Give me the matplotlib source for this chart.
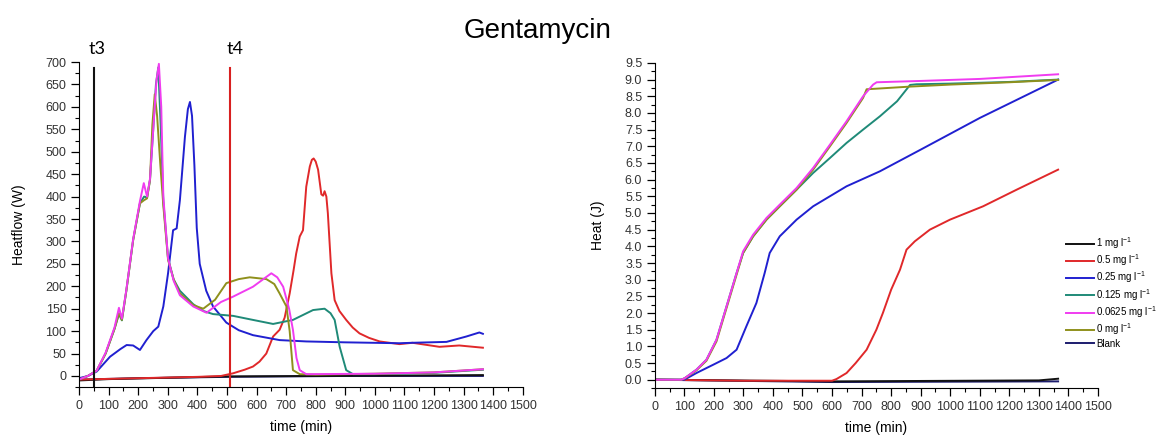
# Gentamycin: heatflow and cumulated heat vs time
import matplotlib as mpl
mpl.use("Agg")
import matplotlib.pyplot as plt
from matplotlib.ticker import MultipleLocator

# font settings
mpl.rcParams['font.family'] = ['Liberation Sans', 'DejaVu Sans']
mpl.rcParams['mathtext.fontset'] = 'custom'
mpl.rcParams['mathtext.rm'] = 'Liberation Sans'
mpl.rcParams['mathtext.it'] = 'Liberation Sans'

labels = [r'1 mg l$^{-1}$', r'0.5 mg l$^{-1}$', r'0.25 mg l$^{-1}$', r'0.125 mg l$^{-1}$',
          r'0.0625 mg l$^{-1}$', r'0 mg l$^{-1}$', 'Blank']
colors = ['#111111', '#e0282a', '#2020d0', '#1f8a78', '#f03cf0', '#8f901c', '#1c1c6e']

# ---- heatflow (W), left panel ----
t_hf_1 = [0, 100, 300, 500, 800, 1100, 1365]
hf_1 = [-10, -7, -4, -1, 0, 1, 2]
t_hf_05 = [0, 200, 400, 480, 521, 560, 588, 610, 633, 656, 678, 695, 712, 725, 734, 746, 757,
           768, 780, 787, 793, 800, 808, 819, 825, 830, 836, 841, 853, 864, 880, 903, 925,
           948, 980, 1016, 1083, 1127, 1218, 1285, 1365]
hf_05 = [-8, -5, -2, 0, 6, 14, 21, 32, 50, 88, 103, 130, 184, 235, 273, 311, 325,
         422, 467, 482, 485, 478, 460, 405, 402, 412, 400, 363, 229, 169, 145, 125, 108,
         95, 85, 77, 71, 74, 65, 68, 63]
t_hf_025 = [0, 30, 60, 105, 140, 161, 183, 206, 228, 251, 268, 285, 301, 318, 330, 341, 358,
            368, 375, 382, 390, 398, 408, 430, 453, 498, 540, 588, 678, 768, 900, 1083,
            1127, 1242, 1309, 1353, 1365]
hf_025 = [-5, 0, 10, 43, 60, 69, 68, 58, 80, 100, 110, 155, 229, 325, 329, 392, 533,
          595, 611, 580, 470, 330, 250, 190, 155, 119, 102, 91, 80, 77, 75, 73,
          74, 76, 88, 97, 94]
t_hf_0125 = [0, 30, 60, 90, 120, 135, 145, 160, 183, 206, 220, 230, 240, 250, 260, 268, 276,
             285, 301, 320, 341, 386, 420, 453, 521, 588, 656, 723, 791, 830, 850, 864,
             881, 903, 926, 1000, 1200, 1365]
hf_0125 = [-8, 0, 12, 50, 105, 138, 124, 190, 303, 385, 400, 398, 437, 540, 650, 688, 560,
           390, 262, 215, 190, 160, 145, 138, 134, 125, 116, 125, 147, 150, 140, 125,
           65, 13, 4, 4, 7, 14]
t_hf_00625 = [0, 30, 60, 90, 120, 135, 145, 160, 183, 206, 219, 230, 240, 250, 262, 270, 278,
              285, 301, 320, 341, 386, 431, 480, 521, 588, 650, 670, 690, 710, 723, 735,
              746, 768, 1000, 1200, 1365]
hf_00625 = [-8, 0, 12, 52, 108, 152, 128, 192, 305, 390, 430, 400, 440, 540, 660, 696, 600,
            400, 262, 212, 180, 155, 141, 165, 177, 199, 229, 220, 199, 150, 103, 40,
            13, 4, 5, 8, 15]
t_hf_0 = [0, 30, 60, 90, 120, 135, 145, 160, 183, 206, 220, 230, 240, 248, 256, 264, 275,
          285, 301, 320, 341, 386, 420, 460, 498, 540, 577, 633, 660, 678, 701, 712, 723,
          746, 800, 1000, 1200, 1365]
hf_0 = [-8, 0, 12, 50, 105, 140, 125, 190, 303, 385, 392, 396, 437, 560, 628, 580, 470,
        380, 259, 215, 184, 158, 150, 170, 207, 216, 220, 216, 205, 184, 155, 100, 13,
        4, 3, 5, 8, 15]
t_hf_blank = [0, 200, 500, 900, 1365]
hf_blank = [-8, -5, -2, 0, 0]

# ---- heat (J), right panel ----
t_h_1 = [0, 600, 1300, 1365]
h_1 = [0, -0.05, -0.02, 0.03]
t_h_05 = [0, 300, 600, 615, 649, 680, 717, 750, 772, 800, 830, 852, 880, 931, 999, 1111,
          1225, 1365]
h_05 = [0, -0.03, -0.03, 0.02, 0.2, 0.5, 0.9, 1.5, 2.0, 2.7, 3.3, 3.9, 4.15, 4.5, 4.8, 5.2,
        5.7, 6.3]
t_h_025 = [0, 100, 141, 198, 243, 277, 310, 344, 372, 389, 423, 480, 536, 649, 762, 900,
           1100, 1365]
h_025 = [0, 0, 0.2, 0.45, 0.65, 0.9, 1.6, 2.3, 3.2, 3.8, 4.3, 4.8, 5.2, 5.8, 6.25, 6.9,
         7.85, 9.0]
t_h_0125 = [0, 90, 102, 141, 175, 209, 243, 277, 299, 333, 378, 423, 480, 536, 593, 649,
            705, 762, 820, 864, 886, 1000, 1200, 1365]
h_0125 = [0, 0, 0.05, 0.3, 0.6, 1.2, 2.2, 3.2, 3.8, 4.3, 4.8, 5.2, 5.7, 6.2, 6.65, 7.1,
          7.5, 7.9, 8.35, 8.84, 8.86, 8.88, 8.93, 9.0]
t_h_00625 = [0, 90, 102, 141, 175, 209, 243, 277, 299, 333, 378, 423, 480, 536, 593, 649,
             705, 739, 751, 900, 1100, 1365]
h_00625 = [0, 0, 0.05, 0.3, 0.6, 1.2, 2.2, 3.2, 3.85, 4.35, 4.85, 5.25, 5.75, 6.35, 7.05,
           7.75, 8.5, 8.85, 8.92, 8.96, 9.02, 9.16]
t_h_0 = [0, 90, 102, 141, 175, 209, 243, 277, 299, 333, 378, 423, 480, 536, 593, 649,
         705, 717, 864, 1000, 1200, 1365]
h_0 = [0, 0, 0.04, 0.28, 0.57, 1.15, 2.15, 3.15, 3.8, 4.3, 4.8, 5.2, 5.7, 6.3, 7.0,
       7.7, 8.45, 8.71, 8.79, 8.85, 8.92, 8.99]
t_h_blank = [0, 600, 1365]
h_blank = [0, -0.07, -0.05]

# time markers on the heatflow plot
t3_time = 50
t4_time = 510
marker_top = 686

hf_series = [(t_hf_1, hf_1), (t_hf_05, hf_05), (t_hf_025, hf_025), (t_hf_0125, hf_0125),
             (t_hf_00625, hf_00625), (t_hf_0, hf_0), (t_hf_blank, hf_blank)]
h_series = [(t_h_1, h_1), (t_h_05, h_05), (t_h_025, h_025), (t_h_0125, h_0125),
            (t_h_00625, h_00625), (t_h_0, h_0), (t_h_blank, h_blank)]

fig = plt.figure(figsize=(11.65, 4.37), dpi=100)
ax1 = fig.add_axes([0.0678, 0.114, 0.381, 0.744])
ax2 = fig.add_axes([0.562, 0.112, 0.3805, 0.744])

# draw order: blank/black at back, legend keeps label order
order = [6, 0, 1, 2, 3, 5, 4]
handles = {}
for i in order:
    t, v = hf_series[i]
    ax1.plot(t, v, color=colors[i], lw=1.4)
    t, v = h_series[i]
    handles[i], = ax2.plot(t, v, color=colors[i], lw=1.4, label=labels[i])

ax1.plot([t3_time, t3_time], [-25, marker_top], color='#111111', lw=1.5)
ax1.plot([t4_time, t4_time], [-25, marker_top], color='#d82020', lw=1.5)
ax1.text(t3_time + 11, 730, 't3', fontsize=13, family=['Lato', 'DejaVu Sans'],
         ha='center', va='center', clip_on=False)
ax1.text(t4_time + 17, 730, 't4', fontsize=13, family=['Lato', 'DejaVu Sans'],
         ha='center', va='center', clip_on=False)

for ax in (ax1, ax2):
    ax.spines['top'].set_visible(False)
    ax.spines['right'].set_visible(False)
    ax.set_xlim(0, 1500)
    ax.xaxis.set_major_locator(MultipleLocator(100))
    ax.xaxis.set_minor_locator(MultipleLocator(50))
    ax.tick_params(which='major', length=6, width=0.9, labelsize=9, labelcolor='#333333',
                   pad=3)
    ax.tick_params(which='minor', length=3, width=0.8)
    ax.set_xlabel('time (min)', fontsize=10, labelpad=6)

ax1.set_ylim(-25, 700)
ax1.set_yticks(range(0, 701, 50))
ax1.yaxis.set_minor_locator(MultipleLocator(25))
ax1.set_ylabel('Heatflow (W)', fontsize=10, labelpad=14)

ax2.set_ylim(-0.25, 9.5)
ax2.set_yticks([i * 0.5 for i in range(20)])
ax2.yaxis.set_minor_locator(MultipleLocator(0.25))
ax2.yaxis.set_major_formatter(mpl.ticker.FormatStrFormatter('%.1f'))
ax2.set_ylabel('Heat (J)', fontsize=10, labelpad=14)

fig.text(0.461, 0.93, 'Gentamycin', fontsize=20, ha='center', va='center')

fig.legend([handles[i] for i in range(7)], labels, loc='upper left',
           bbox_to_anchor=(0.915, 0.462), frameon=False, fontsize=7,
           handlelength=2.9, handletextpad=0.2, labelspacing=0.15, borderpad=0,
           borderaxespad=0)

fig.savefig('out.png', dpi=100)
